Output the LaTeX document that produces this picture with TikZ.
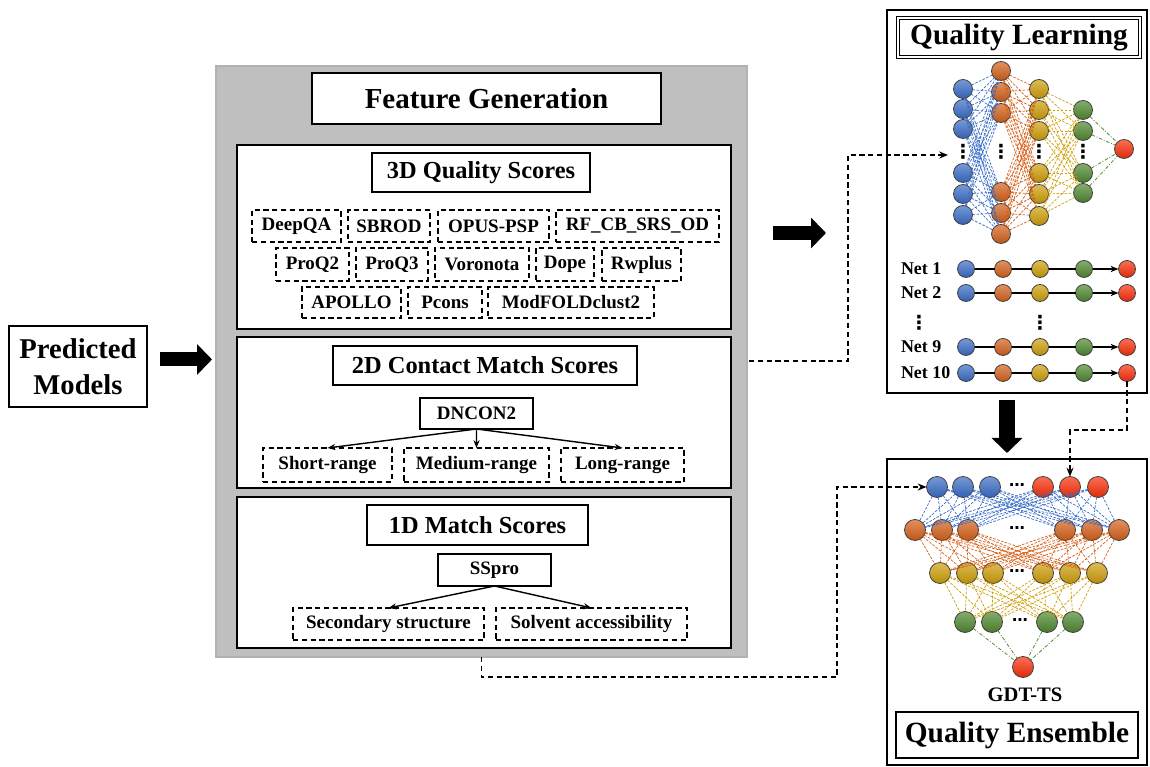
\documentclass[tikz,border=0pt]{standalone}
\usepackage{fontspec}
\setmainfont{Liberation Serif}
\newfontfamily\dotsfont{DejaVu Sans}
\usetikzlibrary{arrows.meta}

\definecolor{nblue}{RGB}{60,110,200}
\definecolor{norange}{RGB}{214,98,28}
\definecolor{nyellow}{RGB}{208,160,10}
\definecolor{ngreen}{RGB}{80,138,48}
\definecolor{nred}{RGB}{252,48,10}
\definecolor{featgray}{RGB}{191,191,191}

\begin{document}
\begin{tikzpicture}[x=1cm,
y=-1cm,
every node/.style={
rectangle,
align=center,
anchor=north west,
inner sep=0pt,
outer sep=0pt,
font=\bfseries,
},
box/.style={draw, line width=1.1pt, fill=white},
frame/.style={draw, line width=1.4pt},
head/.style={box, font=\fontsize{13.9}{16}\selectfont\bfseries},
small/.style={box, font=\fontsize{10.8}{13}\selectfont\bfseries},
dbox/.style={draw, line width=0.9pt, dash pattern=on 3pt off 2pt, fill=white, font=\fontsize{10.8}{13}\selectfont\bfseries},
arr/.style={line width=0.8pt, -{Stealth[length=4.5pt,width=3.5pt]}},
flow/.style={line width=0.9pt, dash pattern=on 3pt off 2pt, -{Stealth[length=5pt,width=4pt]}},
bigarrow/.style={line width=0.28cm, -{Triangle[length=0.3cm,width=0.6cm]}},
neuron/.style={circle, anchor=center, minimum size=0.38cm, draw=black!75, line width=0.45pt, top color=#1!70!white, bottom color=#1!88!black},
link/.style={draw=#1, line width=0.4pt, dash pattern=on 1.5pt off 0.8pt},
gdash/.style={draw=ngreen, line width=0.45pt, dash pattern=on 2pt off 1pt on 0.5pt off 1pt},
dots/.style={anchor=center, font=\fontsize{11}{11}\selectfont\dotsfont\bfseries},
hdots/.style={anchor=center, font=\fontsize{9}{9}\selectfont\dotsfont\bfseries},
netlabel/.style={anchor=west, font=\fontsize{10.2}{12}\selectfont\bfseries}
]
\useasboundingbox (0,0) rectangle (23,15.34);

%Input
\node[box, minimum width=2.76cm, minimum height=1.62cm, font=\fontsize{16.3}{20.5}\selectfont\bfseries] (pred) at (0.18,6.52) {Predicted\\Models};

%Feature generation
\node[draw=gray!60, line width=0.6pt, fill=featgray, minimum width=10.62cm, minimum height=11.82cm] (feat) at (4.32,1.32) {};
\node[box, minimum width=6.98cm, minimum height=1.02cm, font=\fontsize{16.5}{20}\selectfont\bfseries] (fgen) at (6.24,1.46) {Feature Generation};

%3D
\node[frame, fill=white, minimum width=9.88cm, minimum height=3.68cm] (sec3d) at (4.74,2.90) {};
\node[head, minimum width=4.36cm, minimum height=0.78cm] (h3d) at (7.44,3.06) {3D Quality Scores};
\node[dbox, minimum width=1.78cm, minimum height=0.64cm] (deepqa) at (5.04,4.20) {DeepQA};
\node[dbox, minimum width=1.64cm, minimum height=0.64cm] (sbrod) at (6.96,4.20) {SBROD};
\node[dbox, minimum width=2.22cm, minimum height=0.64cm] (opus) at (8.76,4.20) {OPUS-PSP};
\node[dbox, minimum width=3.26cm, minimum height=0.64cm] (rfcb) at (11.12,4.20) {RF\_CB\_SRS\_OD};
\node[dbox, minimum width=1.46cm, minimum height=0.66cm] (proqa) at (5.52,4.96) {ProQ2};
\node[dbox, minimum width=1.44cm, minimum height=0.66cm] (proqb) at (7.12,4.96) {ProQ3};
\node[dbox, minimum width=1.88cm, minimum height=0.66cm] (voro) at (8.70,4.96) {Voronota};
\node[dbox, minimum width=1.16cm, minimum height=0.66cm] (dope) at (10.72,4.96) {Dope};
\node[dbox, minimum width=1.58cm, minimum height=0.66cm] (rwplus) at (12.04,4.96) {Rwplus};
\node[dbox, minimum width=1.98cm, minimum height=0.62cm] (apollo) at (6.04,5.74) {APOLLO};
\node[dbox, minimum width=1.48cm, minimum height=0.62cm] (pcons) at (8.16,5.74) {Pcons};
\node[dbox, minimum width=3.32cm, minimum height=0.62cm] (modfold) at (9.76,5.74) {ModFOLDclust2};

%2D
\node[frame, fill=white, minimum width=9.88cm, minimum height=3.02cm] (sec2d) at (4.74,6.74) {};
\node[head, minimum width=6.08cm, minimum height=0.78cm] (h2d) at (6.66,6.92) {2D Contact Match Scores};
\node[small, minimum width=2.26cm, minimum height=0.62cm] (dncon) at (8.40,7.96) {DNCON2};
\node[dbox, minimum width=2.58cm, minimum height=0.68cm] (short) at (5.26,8.96) {Short-range};
\node[dbox, minimum width=2.90cm, minimum height=0.68cm] (medium) at (8.08,8.96) {Medium-range};
\node[dbox, minimum width=2.46cm, minimum height=0.68cm] (long) at (11.22,8.96) {Long-range};
\draw[arr] (dncon.south) -- (short.north);
\draw[arr] (dncon.south) -- (medium.north);
\draw[arr] (dncon.south) -- (long.north);

%1D
\node[frame, fill=white, minimum width=9.88cm, minimum height=3.02cm] (sec1d) at (4.74,9.94) {};
\node[head, minimum width=4.42cm, minimum height=0.80cm] (h1d) at (7.34,10.10) {1D Match Scores};
\node[small, minimum width=2.26cm, minimum height=0.64cm] (sspro) at (8.76,11.08) {SSpro};
\node[dbox, minimum width=3.82cm, minimum height=0.64cm] (second) at (5.86,12.16) {Secondary structure};
\node[dbox, minimum width=3.82cm, minimum height=0.64cm] (solvent) at (9.92,12.16) {Solvent accessibility};
\draw[arr] (sspro.south) -- (second.north);
\draw[arr] (sspro.south) -- (solvent.north);

%Quality learning
\node[frame, minimum width=5.20cm, minimum height=7.66cm] (ql) at (17.74,0.20) {};
\node[draw, double, double distance=1.2pt, line width=0.8pt, minimum width=4.84cm, minimum height=0.78cm, font=\fontsize{16.7}{20}\selectfont\bfseries] (qlt) at (17.96,0.36) {Quality Learning};
\foreach \y [count=\i] in {1.78,2.18,2.58,3.46,3.88,4.30}
  \node[neuron=nblue] (qb\i) at (19.26,\y) {};
\foreach \y [count=\i] in {1.42,1.84,2.26,3.84,4.26,4.68}
  \node[neuron=norange] (qo\i) at (20.02,\y) {};
\foreach \y [count=\i] in {1.78,2.20,2.62,3.46,3.88,4.32}
  \node[neuron=nyellow] (qy\i) at (20.78,\y) {};
\foreach \y [count=\i] in {2.20,2.62,3.46,3.86}
  \node[neuron=ngreen] (qg\i) at (21.66,\y) {};
\node[neuron=nred] (qr) at (22.48,2.98) {};
\node[dots] (qbd) at (19.26,3.04) {⋮};
\node[dots] (qod) at (20.02,3.04) {⋮};
\node[dots] (qyd) at (20.78,3.04) {⋮};
\node[dots] (qgd) at (21.66,3.04) {⋮};
\foreach \i in {1,...,6}
  \foreach \j in {1,...,6} {
    \draw[link=nblue] (qb\i) -- (qo\j);
    \draw[link=norange] (qo\i) -- (qy\j);
  }
\foreach \i in {1,...,6}
  \foreach \j in {1,...,4}
    \draw[link=nyellow] (qy\i) -- (qg\j);
\foreach \j in {1,...,4}
  \draw[gdash] (qg\j) -- (qr);

%Nets
\foreach \y/\n [count=\r] in {5.38/1,5.86/2,6.94/9,7.46/10} {
  \node[netlabel] (net\r) at (18.02,\y) {Net \n};
  \node[neuron=nblue, minimum size=0.34cm] (nb\r) at (19.32,\y) {};
  \node[neuron=norange, minimum size=0.34cm] (no\r) at (20.06,\y) {};
  \node[neuron=nyellow, minimum size=0.34cm] (ny\r) at (20.80,\y) {};
  \node[neuron=ngreen, minimum size=0.34cm] (ng\r) at (21.68,\y) {};
  \node[neuron=nred, minimum size=0.34cm] (nr\r) at (22.54,\y) {};
  \draw[line width=0.9pt] (nb\r) -- (no\r) -- (ny\r) -- (ng\r);
  \draw[arr, line width=0.9pt] (ng\r) -- (nr\r);
}
\node[dots] (netd) at (18.38,6.46) {⋮};
\node[dots] (nyd) at (20.80,6.46) {⋮};

%Quality ensemble
\node[frame, minimum width=5.20cm, minimum height=6.12cm] (qe) at (17.74,9.18) {};
\node[box, minimum width=4.84cm, minimum height=0.92cm, font=\fontsize{16.7}{20}\selectfont\bfseries] (qet) at (17.92,14.24) {Quality Ensemble};
\foreach \x/\c [count=\i] in {18.74/nblue,19.26/nblue,19.80/nblue,20.86/nred,21.40/nred,21.96/nred}
  \node[neuron=\c, minimum size=0.42cm] (ea\i) at (\x,9.74) {};
\foreach \x [count=\i] in {18.30,18.84,19.36,21.30,21.84,22.38}
  \node[neuron=norange, minimum size=0.42cm] (eb\i) at (\x,10.60) {};
\foreach \x [count=\i] in {18.80,19.34,19.86,20.86,21.40,21.94}
  \node[neuron=nyellow, minimum size=0.42cm] (ec\i) at (\x,11.46) {};
\foreach \x [count=\i] in {19.30,19.84,20.94,21.46}
  \node[neuron=ngreen, minimum size=0.42cm] (ed\i) at (\x,12.44) {};
\node[neuron=nred, minimum size=0.42cm] (eout) at (20.46,13.34) {};
\node[hdots] (ead) at (20.34,9.74) {⋯};
\node[hdots] (ebd) at (20.34,10.60) {⋯};
\node[hdots] (ecd) at (20.34,11.46) {⋯};
\node[hdots] (edd) at (20.40,12.44) {⋯};
\foreach \i in {1,...,6}
  \foreach \j in {1,...,6} {
    \draw[link=nblue] (ea\i) -- (eb\j);
    \draw[link=norange] (eb\i) -- (ec\j);
  }
\foreach \i in {1,...,6}
  \foreach \j in {1,...,4}
    \draw[link=nyellow] (ec\i) -- (ed\j);
\foreach \j in {1,...,4}
  \draw[gdash] (ed\j) -- (eout);
\node[anchor=center, font=\fontsize{11.7}{14}\selectfont\bfseries] (gdt) at (20.50,13.90) {GDT-TS};

%Big arrows
\coordinate (a2s) at (15.46,4.66);
\coordinate (a2e) at (16.52,4.66);
\coordinate (a3s) at (20.14,8.00);
\coordinate (a3e) at (20.14,9.06);
\draw[bigarrow] ([xshift=0.26cm,yshift=0.14cm]pred.east) -- ([xshift=-0.08cm,yshift=0.14cm]feat.west |- pred.east);
\draw[bigarrow] (a2s) -- (a2e);
\draw[bigarrow, line width=0.32cm] (a3s) -- (a3e);

%Dashed flows
\coordinate (f1s) at (14.98,7.22);
\coordinate (f1k) at (16.96,3.10);
\coordinate (qin) at (18.96,3.10);
\coordinate (f2k) at (16.74,9.74);
\coordinate (f3k) at (21.40,8.60);
\draw[flow] (f1s) -| (f1k) -- (qin);
\draw[flow] (feat.south) -- ++(0,0.40) -| (f2k) -- (ea1);
\draw[flow] (nr4) |- (f3k) -- (ea5);
\end{tikzpicture}
\end{document}
